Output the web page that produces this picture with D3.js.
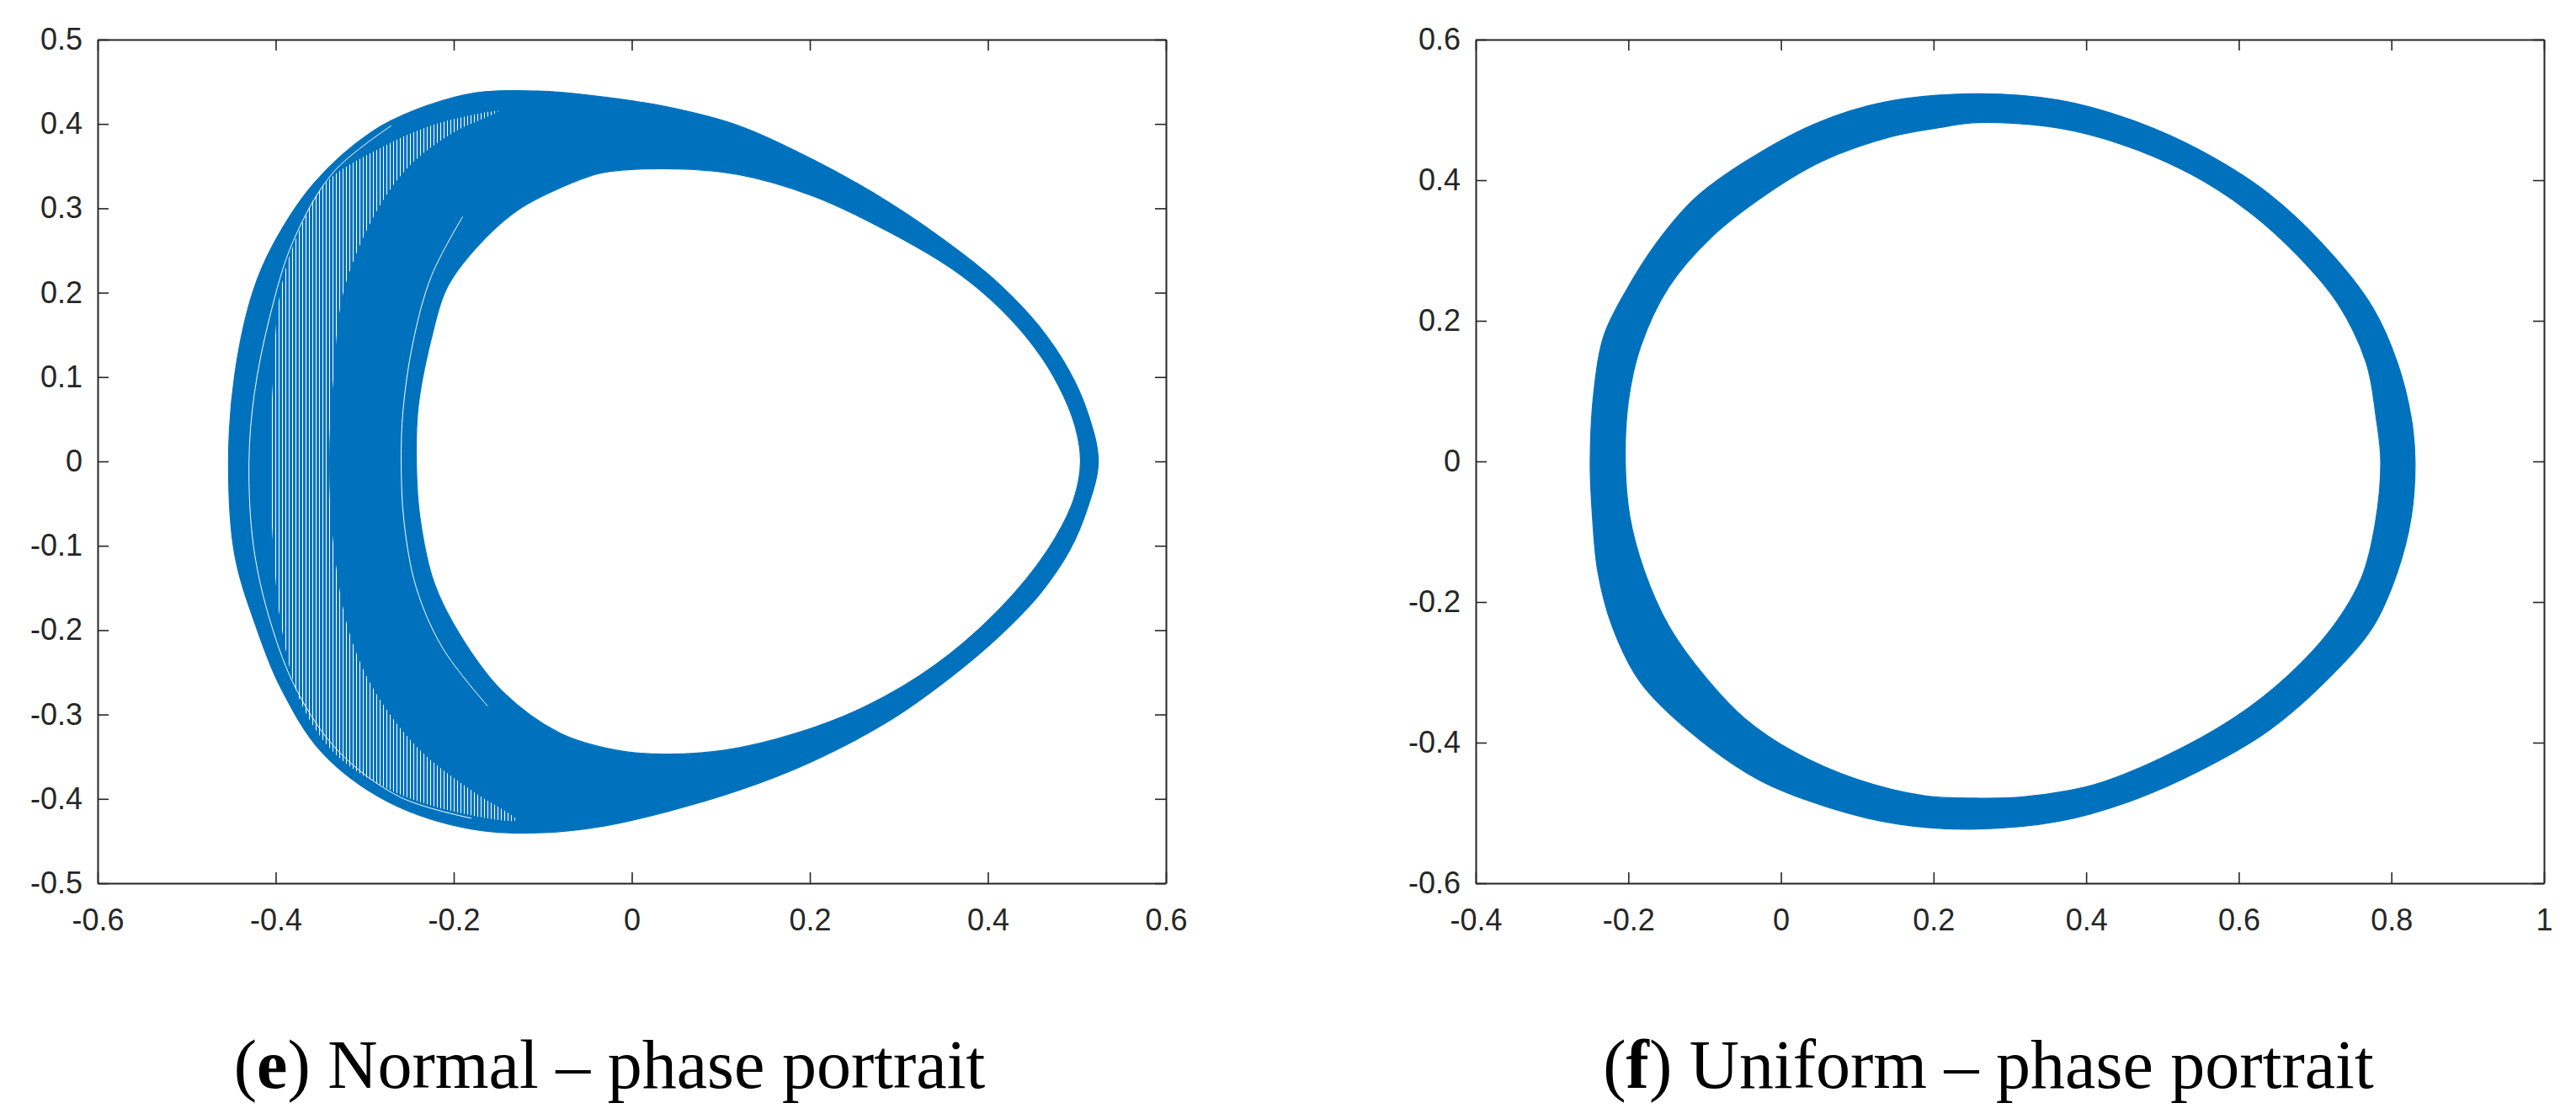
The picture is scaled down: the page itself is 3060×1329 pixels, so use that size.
<!DOCTYPE html>
<html>
<head>
<meta charset="utf-8">
<script src="https://cdn.jsdelivr.net/npm/d3@7"></script>
<style>
  html, body { margin: 0; padding: 0; background: #ffffff; }
  svg { display: block; }
</style>
</head>
<body>
<svg id="chart" width="3060" height="1329"></svg>
<script>
// ---------- Data ----------
// Panel (e): Normal – phase portrait
const normalXTicks = [-0.6, -0.4, -0.2, 0, 0.2, 0.4, 0.6];
const normalXLabels = ["-0.6", "-0.4", "-0.2", "0", "0.2", "0.4", "0.6"];
const normalYTicks = [-0.5, -0.4, -0.3, -0.2, -0.1, 0, 0.1, 0.2, 0.3, 0.4, 0.5];
const normalYLabels = ["-0.5", "-0.4", "-0.3", "-0.2", "-0.1", "0", "0.1", "0.2", "0.3", "0.4", "0.5"];

// outer envelope of the trajectory band [x, y]
const normalOuter = [
  [0.524, 0], [0.512, 0.058], [0.491, 0.108], [0.457, 0.161], [0.415, 0.208],
  [0.373, 0.245], [0.289, 0.307], [0.205, 0.357], [0.12, 0.398], [0.036, 0.421],
  [-0.048, 0.434], [-0.105, 0.439], [-0.175, 0.437], [-0.242, 0.417], [-0.293, 0.39],
  [-0.356, 0.331], [-0.402, 0.259], [-0.426, 0.2], [-0.446, 0.103], [-0.453, 0],
  [-0.446, -0.111], [-0.422, -0.196], [-0.395, -0.267], [-0.348, -0.345], [-0.273, -0.404],
  [-0.179, -0.436], [-0.1, -0.44], [-0.03, -0.432], [0.04, -0.415], [0.12, -0.39],
  [0.2, -0.357], [0.29, -0.307], [0.37, -0.246], [0.42, -0.2], [0.46, -0.155],
  [0.492, -0.105], [0.512, -0.055]
];
// inner envelope (the empty hole)
const normalInner = [
  [0.504, 0], [0.497, 0.045], [0.474, 0.1], [0.445, 0.145], [0.405, 0.19],
  [0.36, 0.228], [0.289, 0.272], [0.205, 0.314], [0.12, 0.34], [0.036, 0.347],
  [-0.034, 0.342], [-0.081, 0.324], [-0.128, 0.298], [-0.175, 0.253], [-0.207, 0.207],
  [-0.226, 0.142], [-0.24, 0.064], [-0.242, 0], [-0.238, -0.066], [-0.222, -0.144],
  [-0.191, -0.209], [-0.144, -0.274], [-0.081, -0.322], [-0.019, -0.342], [0.036, -0.347],
  [0.106, -0.342], [0.185, -0.322], [0.263, -0.29], [0.341, -0.241], [0.412, -0.176],
  [0.467, -0.105], [0.496, -0.046]
];
// sparser (hatched) crescent where the individual loops are visible
const normalSparse = [
  [-0.15, 0.415], [-0.22, 0.40], [-0.285, 0.37], [-0.344, 0.33], [-0.375, 0.27],
  [-0.395, 0.2], [-0.403, 0.1], [-0.406, 0], [-0.403, -0.1], [-0.393, -0.2],
  [-0.37, -0.29], [-0.33, -0.35], [-0.27, -0.39], [-0.2, -0.415], [-0.13, -0.425],
  [-0.18, -0.39], [-0.24, -0.34], [-0.29, -0.27], [-0.318, -0.2], [-0.335, -0.1],
  [-0.34, 0], [-0.335, 0.1], [-0.324, 0.2], [-0.29, 0.29], [-0.25, 0.35], [-0.2, 0.39]
];
// visible white gaps between separate loops
const normalGaps = [
  [[-0.27, 0.398], [-0.335, 0.343], [-0.38, 0.262], [-0.407, 0.17], [-0.424, 0.08],
   [-0.43, 0], [-0.425, -0.1], [-0.406, -0.19], [-0.376, -0.272], [-0.33, -0.343],
   [-0.26, -0.398], [-0.18, -0.423]],
  [[-0.19, 0.29], [-0.225, 0.22], [-0.246, 0.14], [-0.257, 0.06], [-0.259, 0],
   [-0.256, -0.07], [-0.242, -0.15], [-0.212, -0.222], [-0.162, -0.29]]
];

// Panel (f): Uniform – phase portrait
const uniformXTicks = [-0.4, -0.2, 0, 0.2, 0.4, 0.6, 0.8, 1];
const uniformXLabels = ["-0.4", "-0.2", "0", "0.2", "0.4", "0.6", "0.8", "1"];
const uniformYTicks = [-0.6, -0.4, -0.2, 0, 0.2, 0.4, 0.6];
const uniformYLabels = ["-0.6", "-0.4", "-0.2", "0", "0.2", "0.4", "0.6"];

const uniformOuter = [
  [0.256, 0.523], [0.364, 0.514], [0.456, 0.487], [0.547, 0.444], [0.639, 0.381],
  [0.721, 0.296], [0.776, 0.218], [0.808, 0.14], [0.826, 0.062], [0.831, 0],
  [0.826, -0.079], [0.808, -0.157], [0.776, -0.235], [0.721, -0.305], [0.639, -0.383],
  [0.547, -0.441], [0.456, -0.484], [0.364, -0.512], [0.256, -0.523], [0.154, -0.516],
  [0.062, -0.492], [-0.029, -0.453], [-0.121, -0.383], [-0.185, -0.313], [-0.221, -0.235],
  [-0.24, -0.157], [-0.247, -0.079], [-0.25, 0], [-0.245, 0.101], [-0.232, 0.179],
  [-0.204, 0.241], [-0.163, 0.311], [-0.113, 0.374], [-0.049, 0.425], [0.044, 0.48],
  [0.135, 0.511]
];
const uniformInner = [
  [0.256, 0.482], [0.364, 0.474], [0.446, 0.451], [0.538, 0.408], [0.611, 0.357],
  [0.675, 0.295], [0.73, 0.224], [0.767, 0.14], [0.78, 0.062], [0.786, 0],
  [0.779, -0.087], [0.761, -0.165], [0.724, -0.234], [0.665, -0.304], [0.592, -0.366],
  [0.5, -0.421], [0.41, -0.46], [0.318, -0.477], [0.256, -0.479], [0.19, -0.476],
  [0.099, -0.452], [0.017, -0.413], [-0.047, -0.366], [-0.101, -0.304], [-0.147, -0.234],
  [-0.179, -0.156], [-0.198, -0.079], [-0.204, 0], [-0.2, 0.085], [-0.184, 0.163],
  [-0.147, 0.248], [-0.092, 0.318], [-0.019, 0.38], [0.054, 0.427], [0.145, 0.462],
  [0.209, 0.475]
];

// ---------- Drawing ----------
const BLUE = "#0072BD";
const AX = "#262626";
const svg = d3.select("#chart");

const defs = svg.append("defs");
const pat = defs.append("pattern").attr("id", "hatch")
  .attr("patternUnits", "userSpaceOnUse").attr("width", 4).attr("height", 4);
pat.append("rect").attr("width", 4).attr("height", 4).attr("fill", "#ffffff");
pat.append("rect").attr("width", 3).attr("height", 4).attr("fill", BLUE);

function panel(cfg) {
  const x = d3.scaleLinear().domain(cfg.xDomain).range([cfg.left, cfg.right]);
  const y = d3.scaleLinear().domain(cfg.yDomain).range([cfg.bottom, cfg.top]);
  const g = svg.append("g");

  const clipId = "clip" + cfg.id;
  defs.append("clipPath").attr("id", clipId).append("rect")
    .attr("x", cfg.left).attr("y", cfg.top)
    .attr("width", cfg.right - cfg.left).attr("height", cfg.bottom - cfg.top);

  const ringLine = d3.line().x(d => x(d[0])).y(d => y(d[1])).curve(d3.curveCatmullRomClosed.alpha(0.5));
  const openLine = d3.line().x(d => x(d[0])).y(d => y(d[1])).curve(d3.curveCatmullRom.alpha(0.5));
  const plot = g.append("g").attr("clip-path", `url(#${clipId})`);
  plot.append("path")
    .attr("d", ringLine(cfg.outer) + ringLine(cfg.inner))
    .attr("fill", BLUE).attr("fill-rule", "evenodd").attr("stroke", BLUE).attr("stroke-width", 1.2);
  if (cfg.sparse) {
    plot.append("path").attr("d", ringLine(cfg.sparse)).attr("fill", "url(#hatch)");
  }
  (cfg.gaps || []).forEach(gp => {
    plot.append("path").attr("d", openLine(gp)).attr("fill", "none")
      .attr("stroke", "#ffffff").attr("stroke-width", 1);
  });

  const fmtX = v => cfg.xLabels[cfg.xTicks.indexOf(v)];
  const fmtY = v => cfg.yLabels[cfg.yTicks.indexOf(v)];
  const TS = 13;
  const axB = g.append("g").attr("transform", `translate(0,${cfg.bottom})`)
    .call(d3.axisBottom(x).tickValues(cfg.xTicks).tickFormat(fmtX).tickSizeInner(-TS).tickSizeOuter(0).tickPadding(30));
  const axT = g.append("g").attr("transform", `translate(0,${cfg.top})`)
    .call(d3.axisTop(x).tickValues(cfg.xTicks).tickFormat("").tickSizeInner(-TS).tickSizeOuter(0));
  const axL = g.append("g").attr("transform", `translate(${cfg.left},0)`)
    .call(d3.axisLeft(y).tickValues(cfg.yTicks).tickFormat(fmtY).tickSizeInner(-TS).tickSizeOuter(0).tickPadding(18));
  const axR = g.append("g").attr("transform", `translate(${cfg.right},0)`)
    .call(d3.axisRight(y).tickValues(cfg.yTicks).tickFormat("").tickSizeInner(-TS).tickSizeOuter(0));
  [axB, axT, axL, axR].forEach(a => {
    a.select(".domain").attr("stroke", AX).attr("stroke-width", 2);
    a.selectAll(".tick line").attr("stroke", AX).attr("stroke-width", 1.6);
    a.selectAll(".tick text").attr("fill", AX)
      .style("font-family", "'Liberation Sans', Arial, sans-serif").style("font-size", "36px");
  });

  const cap = svg.append("text").attr("x", cfg.capX).attr("y", 1292)
    .attr("text-anchor", "middle")
    .style("font-family", "'Liberation Serif', 'Times New Roman', serif")
    .style("font-size", "82px").attr("fill", "#000");
  cap.append("tspan").text("(");
  cap.append("tspan").style("font-weight", "bold").text(cfg.capLetter);
  cap.append("tspan").text(") " + cfg.capText);
}

panel({
  id: "e", left: 116, right: 1385, top: 47, bottom: 1049,
  xDomain: [-0.6, 0.6], yDomain: [-0.5, 0.5],
  xTicks: normalXTicks, xLabels: normalXLabels, yTicks: normalYTicks, yLabels: normalYLabels,
  outer: normalOuter, inner: normalInner, sparse: normalSparse, gaps: normalGaps,
  capX: 724, capLetter: "e", capText: "Normal \u2013 phase portrait"
});
panel({
  id: "f", left: 1753, right: 3022, top: 47, bottom: 1049,
  xDomain: [-0.4, 1], yDomain: [-0.6, 0.6],
  xTicks: uniformXTicks, xLabels: uniformXLabels, yTicks: uniformYTicks, yLabels: uniformYLabels,
  outer: uniformOuter, inner: uniformInner, sparse: null, gaps: [],
  capX: 2362, capLetter: "f", capText: "Uniform \u2013 phase portrait"
});
</script>
</body>
</html>
